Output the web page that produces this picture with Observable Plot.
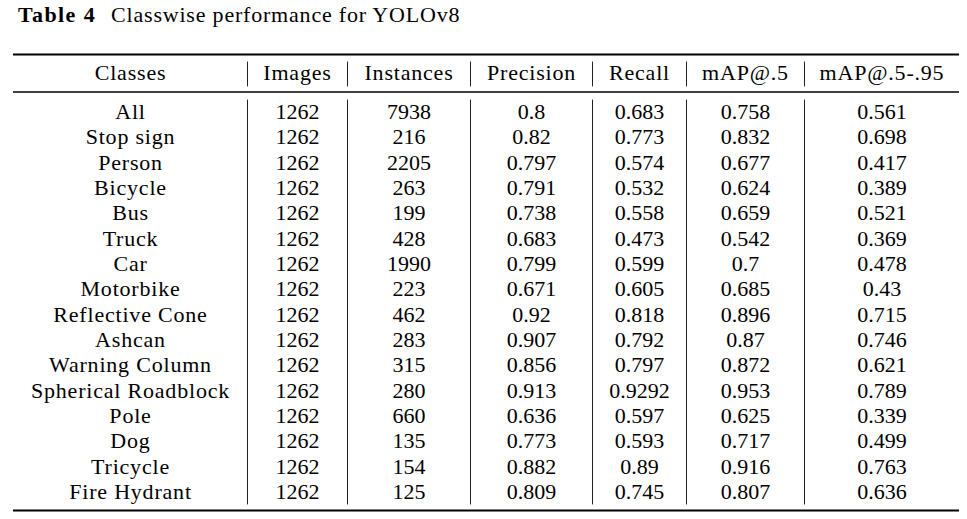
<!DOCTYPE html>
<html>
<head>
<meta charset="utf-8">
<script src="https://cdn.jsdelivr.net/npm/d3@7"></script>
<script src="https://cdn.jsdelivr.net/npm/@observablehq/plot@0.6"></script>
<style>
  html, body { margin: 0; padding: 0; background: #fff; }
  #wrap { position: relative; width: 967px; height: 519px; }
  #title { position: absolute; left: 18px; top: 4px; font-family: "Liberation Serif", serif; font-size: 22px; line-height: 22px; color: #000; white-space: nowrap; }
  #title b { letter-spacing: 1.4px; margin-right: 15px; }
  #title span { letter-spacing: 0.8px; }
  g[aria-description="words"] text { letter-spacing: 0.8px; }
</style>
</head>
<body>
<div id="wrap">
  <div id="title"><b>Table 4</b><span>Classwise performance for YOLOv8</span></div>
</div>
<script>
// ---- data ----
const headers = ["Classes", "Images", "Instances", "Precision", "Recall", "mAP@.5", "mAP@.5-.95"];
const classes = ["All", "Stop sign", "Person", "Bicycle", "Bus", "Truck", "Car", "Motorbike", "Reflective Cone", "Ashcan", "Warning Column", "Spherical Roadblock", "Pole", "Dog", "Tricycle", "Fire Hydrant"];
const images = [1262, 1262, 1262, 1262, 1262, 1262, 1262, 1262, 1262, 1262, 1262, 1262, 1262, 1262, 1262, 1262];
const instances = [7938, 216, 2205, 263, 199, 428, 1990, 223, 462, 283, 315, 280, 660, 135, 154, 125];
const precision = [0.8, 0.82, 0.797, 0.791, 0.738, 0.683, 0.799, 0.671, 0.92, 0.907, 0.856, 0.913, 0.636, 0.773, 0.882, 0.809];
const recall = [0.683, 0.773, 0.574, 0.532, 0.558, 0.473, 0.599, 0.605, 0.818, 0.792, 0.797, 0.9292, 0.597, 0.593, 0.89, 0.745];
const map50 = [0.758, 0.832, 0.677, 0.624, 0.659, 0.542, 0.7, 0.685, 0.896, 0.87, 0.872, 0.953, 0.625, 0.717, 0.916, 0.807];
const map5095 = [0.561, 0.698, 0.417, 0.389, 0.521, 0.369, 0.478, 0.43, 0.715, 0.746, 0.621, 0.789, 0.339, 0.499, 0.763, 0.636];

// ---- layout (column widths in table units, row offsets in row units) ----
const colWidths = [234, 100, 123, 122, 94, 118, 155];
const edges = [0];
colWidths.forEach(w => edges.push(edges[edges.length - 1] + w));
const total = edges[edges.length - 1];
const centers = colWidths.map((w, i) => edges[i] + w / 2);
const HEADER_ROW = -1.54, TOP_RULE = -2.27, MID_RULE = -0.79, BOTTOM_RULE = 15.73;

const columns = [classes, images, instances, precision, recall, map50, map5095];
const cells = [];
columns.forEach((col, c) => col.forEach((v, r) => cells.push({c, r, text: String(v)})));
const wordCells = cells.filter(d => d.c === 0);
const numCells = cells.filter(d => d.c > 0);
const headerCells = headers.map((h, c) => ({c, r: HEADER_ROW, text: h}));

const hRules = [
  {y: TOP_RULE, w: 2.2},
  {y: MID_RULE, w: 1.3},
  {y: BOTTOM_RULE, w: 2.2}
];
const vRules = [];
for (let i = 1; i < edges.length - 1; i++) {
  vRules.push({x: edges[i], y1: -1.97, y2: -0.99});
  vRules.push({x: edges[i], y1: -0.47, y2: 15.51});
}

const font = {fontFamily: "Liberation Serif", fontSize: 22, fill: "#000", textAnchor: "middle", lineAnchor: "middle"};

const chart = Plot.plot({
  width: 967,
  height: 519,
  margin: 0,
  x: {type: "linear", domain: [0, total], range: [13, 959], axis: null},
  y: {type: "linear", domain: [0, 15], range: [111.5, 491.5], axis: null},
  style: {background: "#fff"},
  marks: [
    Plot.ruleY(hRules, {y: "y", x1: 0, x2: total, stroke: "#000", strokeWidth: d => d.w}),
    Plot.ruleX(vRules, {x: "x", y1: "y1", y2: "y2", stroke: "#222", strokeWidth: 1}),
    Plot.text(headerCells, {x: d => centers[d.c], y: "r", text: "text", ...font, ariaDescription: "words"}),
    Plot.text(wordCells, {x: d => centers[d.c], y: "r", text: "text", ...font, ariaDescription: "words"}),
    Plot.text(numCells, {x: d => centers[d.c], y: "r", text: "text", ...font})
  ]
});
document.getElementById("wrap").appendChild(chart);
</script>
</body>
</html>
